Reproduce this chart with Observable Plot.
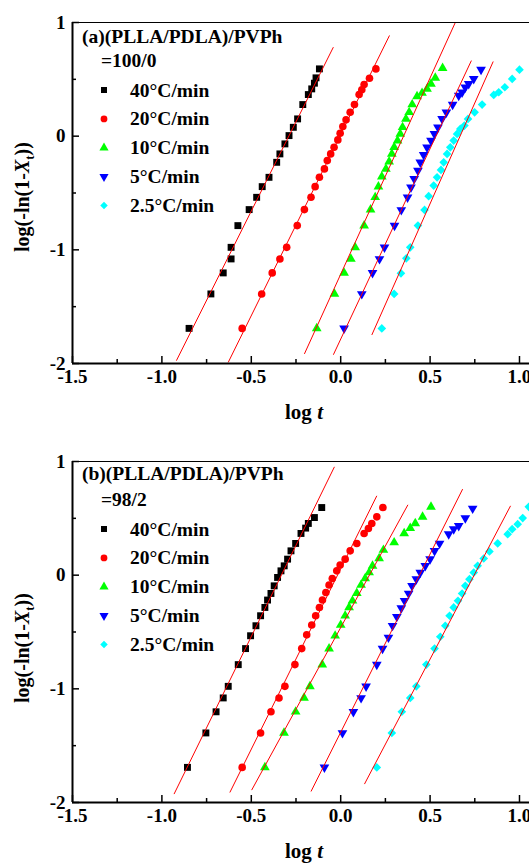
<!DOCTYPE html>
<html><head><meta charset="utf-8">
<script src="https://cdn.jsdelivr.net/npm/d3@7"></script>
<script src="https://cdn.jsdelivr.net/npm/@observablehq/plot@0.6"></script>
<style>
body{margin:0;background:#fff;overflow:hidden;}
#chart svg{display:block;}
</style></head><body><div id="chart"></div>
<script>
// ---------- labels ----------
const rates = ["40°C/min","20°C/min","10°C/min","5°C/min","2.5°C/min"];
const colors = ["#000000","#ff0000","#00ff00","#0000ff","#00ffff"];
const xMajor = [-1.5,-1.0,-0.5,0.0,0.5,1.0];
const xMinor = [-1.25,-0.75,-0.25,0.25,0.75];
const yMajor = [-2,-1,0,1];
const yMinor = [-1.5,-0.5,0.5];

// ---------- panel (a) 100/0 ----------
const a40x = [-0.848,-0.726,-0.657,-0.613,-0.613,-0.575,-0.512,-0.470,-0.439,-0.401,-0.358,-0.340,-0.312,-0.289,-0.265,-0.241,-0.212,-0.181,-0.162,-0.147,-0.138,-0.119];
const a40y = [-1.691,-1.388,-1.203,-1.080,-0.978,-0.787,-0.646,-0.538,-0.444,-0.362,-0.230,-0.156,-0.068,0.005,0.078,0.152,0.278,0.366,0.416,0.466,0.513,0.592];
const a20x = [-0.551,-0.442,-0.383,-0.340,-0.302,-0.243,-0.203,-0.166,-0.143,-0.119,-0.091,-0.075,-0.056,-0.037,-0.016,-0.003,0.012,0.030,0.053,0.077,0.103,0.118,0.131,0.161,0.197];
const a20y = [-1.691,-1.388,-1.203,-1.080,-0.978,-0.787,-0.646,-0.538,-0.444,-0.362,-0.288,-0.215,-0.156,-0.098,-0.033,0.026,0.085,0.144,0.210,0.278,0.366,0.408,0.454,0.510,0.592];
const a10x = [-0.134,-0.035,0.019,0.057,0.081,0.131,0.167,0.193,0.211,0.230,0.253,0.271,0.286,0.299,0.318,0.333,0.346,0.365,0.383,0.400,0.427,0.455,0.483,0.505,0.529,0.570];
const a10y = [-1.691,-1.388,-1.203,-1.080,-0.978,-0.787,-0.646,-0.538,-0.444,-0.356,-0.288,-0.224,-0.156,-0.098,-0.039,0.020,0.078,0.152,0.210,0.278,0.350,0.380,0.416,0.460,0.513,0.598];
const a5x = [0.019,0.118,0.178,0.217,0.245,0.301,0.339,0.374,0.393,0.411,0.432,0.445,0.464,0.483,0.505,0.524,0.544,0.567,0.591,0.626,0.660,0.679,0.697,0.716,0.744,0.785];
const a5y = [-1.691,-1.388,-1.203,-1.080,-0.978,-0.787,-0.649,-0.538,-0.450,-0.376,-0.303,-0.230,-0.165,-0.098,-0.039,0.020,0.078,0.152,0.210,0.278,0.357,0.386,0.430,0.460,0.504,0.585];
const a25x = [0.230,0.299,0.337,0.367,0.389,0.432,0.469,0.492,0.520,0.539,0.561,0.576,0.595,0.613,0.632,0.651,0.669,0.692,0.712,0.749,0.791,0.856,0.884,0.918,0.959,1.000];
const a25y = [-1.691,-1.388,-1.207,-1.075,-0.978,-0.787,-0.649,-0.528,-0.435,-0.362,-0.297,-0.230,-0.156,-0.098,-0.039,0.020,0.064,0.093,0.152,0.210,0.278,0.363,0.386,0.430,0.504,0.585];
// fitted lines (a): start / end points
const aFitX1 = [-0.919,-0.629,-0.203,-0.041,0.174];
const aFitY1 = [-1.975,-1.990,-1.916,-1.923,-1.749];
const aFitX2 = [-0.041,0.273,0.641,0.731,0.853];
const aFitY2 = [0.783,0.886,1.000,0.665,0.657];

// ---------- panel (b) 98/2 ----------
const b40x = [-0.857,-0.754,-0.697,-0.657,-0.629,-0.573,-0.532,-0.504,-0.474,-0.448,-0.424,-0.409,-0.390,-0.372,-0.353,-0.334,-0.316,-0.297,-0.278,-0.252,-0.222,-0.196,-0.181,-0.147,-0.106];
const b40y = [-1.691,-1.388,-1.202,-1.080,-0.978,-0.787,-0.646,-0.533,-0.445,-0.357,-0.284,-0.219,-0.161,-0.094,-0.020,0.038,0.082,0.141,0.214,0.279,0.367,0.414,0.455,0.507,0.595];
const b20x = [-0.551,-0.448,-0.390,-0.345,-0.312,-0.256,-0.218,-0.190,-0.162,-0.140,-0.119,-0.102,-0.083,-0.065,-0.047,-0.022,-0.003,0.025,0.053,0.090,0.131,0.155,0.174,0.202,0.236];
const b20y = [-1.691,-1.388,-1.202,-1.080,-0.978,-0.787,-0.646,-0.525,-0.439,-0.357,-0.284,-0.219,-0.152,-0.087,-0.029,0.038,0.089,0.141,0.214,0.279,0.367,0.411,0.455,0.513,0.595];
const b10x = [-0.424,-0.317,-0.252,-0.205,-0.172,-0.103,-0.065,-0.031,0.000,0.025,0.047,0.066,0.090,0.114,0.137,0.159,0.178,0.215,0.239,0.299,0.355,0.389,0.417,0.458,0.505];
const b10y = [-1.691,-1.388,-1.202,-1.080,-0.978,-0.787,-0.646,-0.533,-0.439,-0.357,-0.284,-0.225,-0.158,-0.087,-0.029,0.023,0.082,0.147,0.221,0.287,0.367,0.414,0.455,0.513,0.601];
const b5x = [-0.091,0.010,0.071,0.114,0.142,0.202,0.234,0.267,0.290,0.314,0.339,0.357,0.380,0.399,0.423,0.445,0.473,0.500,0.525,0.553,0.604,0.632,0.660,0.697,0.738];
const b5y = [-1.691,-1.388,-1.202,-1.080,-0.978,-0.787,-0.646,-0.548,-0.445,-0.366,-0.290,-0.225,-0.161,-0.094,-0.035,0.023,0.082,0.141,0.214,0.279,0.361,0.405,0.434,0.502,0.587];
const b25x = [0.202,0.286,0.342,0.389,0.423,0.479,0.525,0.557,0.585,0.609,0.632,0.656,0.679,0.697,0.720,0.744,0.766,0.800,0.832,0.878,0.934,0.959,0.990,1.018,1.052];
const b25y = [-1.691,-1.388,-1.202,-1.080,-0.978,-0.787,-0.646,-0.542,-0.445,-0.357,-0.284,-0.225,-0.161,-0.094,-0.035,0.023,0.082,0.147,0.208,0.279,0.361,0.405,0.449,0.502,0.601];
const bFitX1 = [-0.932,-0.620,-0.498,-0.166,0.133];
const bFitY1 = [-1.926,-1.912,-1.891,-1.903,-1.838];
const bFitX2 = [-0.035,0.202,0.376,0.682,0.950];
const bFitY2 = [0.953,0.698,0.619,0.757,0.610];

// ---------- symbols ----------
const triangleDown = {
  draw(context, size) {
    const y = -Math.sqrt(size / (Math.sqrt(3) * 3));
    context.moveTo(0, -y * 2);
    context.lineTo(Math.sqrt(3) * y, y);
    context.lineTo(-Math.sqrt(3) * y, y);
    context.closePath();
  }
};
const plotSymbols = ["square","circle","triangle",triangleDown,"diamond2"];
const d3Symbols = [d3.symbolSquare,d3.symbolCircle,d3.symbolTriangle,triangleDown,d3.symbolDiamond2];
const radii = [3.9,3.8,3.6,3.6,3.9];

const FONT = "'Liberation Serif','Times New Roman',serif";
const TOP = 22, BOTTOM = 363, LEFT = 72, W = 529;

function drawPanel(cfg) {
  const plotH = BOTTOM - TOP, plotW = W - LEFT;
  const marks = [];
  cfg.series.forEach((s, k) => {
    const rows = s[0].map((x, i) => ({x, y: s[1][i]}));
    marks.push(Plot.dot(rows, {x: "x", y: "y", symbol: plotSymbols[k], fill: colors[k], r: radii[k], clip: true}));
  });
  const fits = cfg.fit[0].map((x1, i) => ({x1, y1: cfg.fit[1][i], x2: cfg.fit[2][i], y2: cfg.fit[3][i]}));
  marks.push(Plot.link(fits, {x1: "x1", y1: "y1", x2: "x2", y2: "y2", stroke: "#ff0000", strokeWidth: 1, clip: true}));
  marks.push(
    Plot.ruleY([1], {stroke: "#000", strokeWidth: 1}),
    Plot.tickX(xMinor, {x: d => d, insetTop: plotH - 4, stroke: "#000", strokeWidth: 1.5}),
    Plot.tickX(xMajor, {x: d => d, insetTop: plotH - 7, stroke: "#000", strokeWidth: 1.5}),
    Plot.tickY(yMinor, {y: d => d, insetRight: plotW - 4, stroke: "#000", strokeWidth: 1.5}),
    Plot.tickY(yMajor, {y: d => d, insetRight: plotW - 7, stroke: "#000", strokeWidth: 1.5}),
    Plot.ruleX([-1.5], {stroke: "#000", strokeWidth: 2}),
    Plot.ruleY([-2], {stroke: "#000", strokeWidth: 2}),
    Plot.axisX({ticks: xMajor, tickSize: 0, tickPadding: 6, tickFormat: d => d.toFixed(1), label: null, fill: "#000"}),
    Plot.axisY({ticks: yMajor, tickSize: 0, tickPadding: 7, tickFormat: d => String(d), label: null, fill: "#000"})
  );
  const svgEl = Plot.plot({
    width: W, height: cfg.height,
    marginLeft: LEFT, marginRight: 0, marginTop: TOP, marginBottom: cfg.height - BOTTOM,
    x: {domain: [-1.5, 1.056]},
    y: {domain: [-2, 1]},
    style: {fontFamily: FONT, fontSize: "19px", fontWeight: "bold", color: "#000", background: "#fff"},
    marks
  });
  const svg = d3.select(svgEl);
  const g = svg.append("g").attr("font-family", FONT).attr("font-weight", "bold")
    .attr("fill", "#000").attr("text-anchor", "start");
  g.append("text").attr("x", 82).attr("y", cfg.titleY).attr("font-size", 19.5).text(cfg.title);
  g.append("text").attr("x", 101).attr("y", 67).attr("font-size", 19.5).text(cfg.ratio);
  rates.forEach((r, k) => {
    const cy = 90 + k * 28.9;
    g.append("path").attr("transform", `translate(104,${cy})`)
      .attr("d", d3.symbol(d3Symbols[k], Math.PI * 3.4 * 3.4)()).attr("fill", colors[k]);
    g.append("text").attr("x", 130).attr("y", cy + 6.5).attr("font-size", 19.5).text(r);
  });
  const yl = g.append("text").attr("transform", `translate(29,${cfg.ylabelY}) rotate(-90)`)
    .attr("text-anchor", "middle").attr("font-size", 20);
  yl.append("tspan").text("log(-ln(1-");
  yl.append("tspan").attr("font-style", "italic").text("X");
  yl.append("tspan").attr("font-size", 13).attr("dy", 5).text("t");
  yl.append("tspan").attr("dy", -5).text("))");
  const xl = g.append("text").attr("x", 304).attr("y", 419).attr("text-anchor", "middle").attr("font-size", 21);
  xl.append("tspan").text("log ");
  xl.append("tspan").attr("font-style", "italic").text("t");
  document.getElementById("chart").appendChild(svgEl);
}

drawPanel({height: 439, title: "(a)(PLLA/PDLA)/PVPh", ratio: "=100/0", titleY: 43, ylabelY: 197,
  series: [[a40x,a40y],[a20x,a20y],[a10x,a10y],[a5x,a5y],[a25x,a25y]],
  fit: [aFitX1, aFitY1, aFitX2, aFitY2]});
drawPanel({height: 425, title: "(b)(PLLA/PDLA)/PVPh", ratio: "=98/2", titleY: 41, ylabelY: 209,
  series: [[b40x,b40y],[b20x,b20y],[b10x,b10y],[b5x,b5y],[b25x,b25y]],
  fit: [bFitX1, bFitY1, bFitX2, bFitY2]});
</script></body></html>
